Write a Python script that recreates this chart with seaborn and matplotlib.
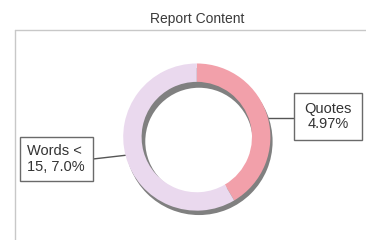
import matplotlib
matplotlib.use("Agg")
import matplotlib.pyplot as plt
import seaborn as sns
from matplotlib.patches import Rectangle

sns.set_theme(style="white")
plt.rcParams['font.family'] = ['Liberation Sans', 'DejaVu Sans']

# data
categories = ["Quotes", "Words < 15"]
values = [4.97, 7.0]
labels = ["Quotes\n4.97%", "Words <\n15, 7.0%"]
title = "Report Content"
colors = ["#F2A0AA", "#EAD9EE"]
shadow_color = "#808080"

W, H = 366, 240
fig = plt.figure(figsize=(W / 100, H / 100), dpi=100)
fig.patch.set_facecolor("white")

# overlay axes in pixel coordinates
ov = fig.add_axes([0, 0, 1, 1])
ov.set_xlim(0, W)
ov.set_ylim(H, 0)
ov.axis("off")

# frame lines
ov.plot([15, 15], [30, 240], color="#c8c8c8", lw=1.0)
ov.plot([15, 366], [30, 30], color="#c8c8c8", lw=1.0)
ov.text(197, 19, title, ha="center", va="center", fontsize=10, color="#3a3a3a")

# donut axes
cx, cy, r = 199, 140, 78
pax = fig.add_axes([(cx - r) / W, (H - cy - r) / H, 2 * r / W, 2 * r / H])
pax.axis("off")
pax.pie([sum(values)], colors=[shadow_color], radius=1.0, center=(0.03, -0.06),
        startangle=90, counterclock=False, frame=True,
        wedgeprops=dict(width=0.27, linewidth=0))
pax.pie(values, colors=colors, radius=1.0, startangle=90, counterclock=False,
        frame=True, wedgeprops=dict(width=0.25, linewidth=0))
pax.set_xlim(-1.02, 1.08)
pax.set_ylim(-1.1, 1.02)
pax.set_aspect("equal")
pax.axis("off")

# label boxes and leader lines
ov.add_patch(Rectangle((294, 93), 68, 47, fill=True, facecolor="white",
                       edgecolor="#6a6a6a", lw=1.0, zorder=3))
ov.text(328, 116.5, labels[0], ha="center", va="center", fontsize=10.5,
        color="#333333", linespacing=1.15, zorder=4)
ov.plot([262, 294], [118, 118], color="#555555", lw=1.0)

ov.add_patch(Rectangle((20, 137), 73, 44, fill=True, facecolor="white",
                       edgecolor="#6a6a6a", lw=1.0, zorder=3))
ov.text(27, 159, labels[1], ha="left", va="center", fontsize=10.5,
        color="#333333", linespacing=1.15, zorder=4)
ov.plot([93, 128], [159, 155], color="#555555", lw=1.0)

fig.savefig("out.png", dpi=100, facecolor="white")
